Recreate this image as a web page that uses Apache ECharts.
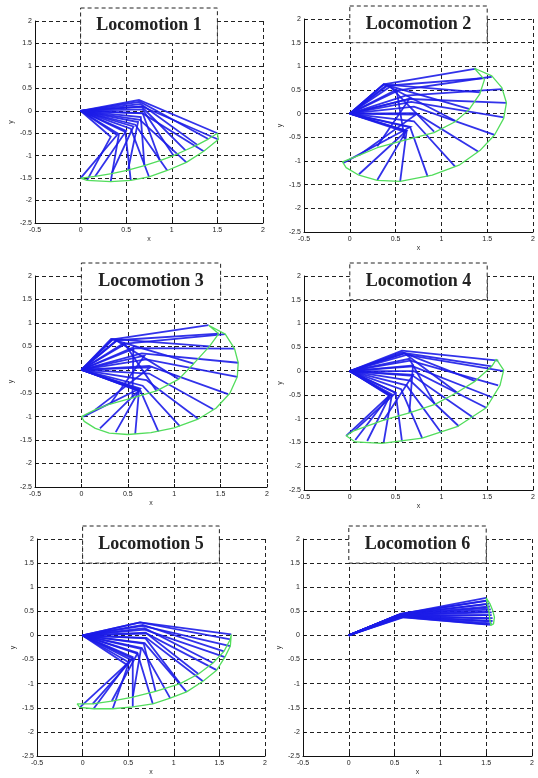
<!DOCTYPE html>
<html>
<head>
<meta charset="utf-8">
<script src="https://cdn.jsdelivr.net/npm/echarts@6/dist/echarts.min.js"></script>
<style>
html, body { margin: 0; padding: 0; background: #fff; }
#container { width: 538px; height: 778px; }
</style>
</head>
<body>
<div id="container"></div>
<script>
var titles = ['Locomotion 1', 'Locomotion 2', 'Locomotion 3', 'Locomotion 4', 'Locomotion 5', 'Locomotion 6'];
var hip = [0, 0];

// knee / foot position of each frame (stance then swing), foot path in green
var p1Knee = [[0.64,0.24],[0.65,0.20],[0.66,0.15],[0.67,0.09],[0.68,0.03],[0.68,-0.05],[0.66,-0.14],[0.63,-0.25],[0.58,-0.35],[0.50,-0.45],[0.40,-0.54],
              [0.33,-0.58],[0.42,-0.52],[0.49,-0.47],[0.55,-0.40],[0.60,-0.31],[0.65,-0.20],[0.68,-0.06],[0.67,0.10]];
var p1Foot = [[1.50,-0.50],[1.40,-0.63],[1.28,-0.76],[1.15,-0.88],[1.02,-1.00],[0.87,-1.11],[0.70,-1.22],[0.52,-1.32],[0.34,-1.40],[0.16,-1.46],[0.00,-1.50],
              [0.07,-1.55],[0.33,-1.58],[0.55,-1.55],[0.75,-1.47],[0.95,-1.33],[1.16,-1.15],[1.35,-0.90],[1.51,-0.64]];
var p1Path = [[1.50,-0.50],[1.40,-0.63],[1.28,-0.76],[1.15,-0.88],[1.02,-1.00],[0.87,-1.11],[0.70,-1.22],[0.52,-1.32],[0.34,-1.40],[0.16,-1.46],[0.00,-1.50],
              [0.07,-1.55],[0.33,-1.58],[0.55,-1.55],[0.75,-1.47],[0.95,-1.33],[1.16,-1.15],[1.35,-0.90],[1.51,-0.64],[1.50,-0.50]];

var p2Knee = [[0.37,0.62],[0.53,0.49],[0.61,0.38],[0.65,0.31],[0.67,0.25],[0.70,0.15],[0.72,0.01],[0.70,-0.16],[0.66,-0.29],[0.62,-0.37],[0.61,-0.39],[0.62,-0.36],[0.66,-0.28],
              [0.72,-0.02],[0.65,0.31],[0.51,0.51],[0.44,0.57],[0.40,0.60],[0.37,0.62],[0.37,0.62],[0.41,0.59]];
var p2Foot = [[1.38,0.95],[1.55,0.78],[1.66,0.52],[1.71,0.23],[1.68,-0.08],[1.58,-0.45],[1.40,-0.80],[1.15,-1.12],[0.85,-1.33],[0.55,-1.43],[0.30,-1.40],[0.10,-1.28],[-0.07,-1.04],
              [0.10,-0.88],[0.30,-0.69],[0.60,-0.55],[0.92,-0.38],[1.15,-0.15],[1.30,0.10],[1.42,0.45],[1.46,0.75]];
var p2Path = [[1.36,0.96],[1.55,0.80],[1.66,0.55],[1.71,0.23],[1.68,-0.10],[1.58,-0.45],[1.42,-0.78],[1.20,-1.08],[0.90,-1.30],[0.55,-1.43],[0.30,-1.41],[0.10,-1.30],[-0.04,-1.14],[-0.08,-1.02],
              [0.10,-0.88],[0.30,-0.72],[0.60,-0.56],[0.92,-0.40],[1.15,-0.17],[1.30,0.08],[1.42,0.42],[1.47,0.72],[1.36,0.96]];

var p3Knee = [[0.34,0.65],[0.48,0.56],[0.58,0.46],[0.65,0.35],[0.70,0.22],[0.73,0.08],[0.73,-0.08],[0.70,-0.22],[0.66,-0.34],[0.63,-0.42],[0.62,-0.45],[0.62,-0.45],[0.62,-0.44],[0.63,-0.40],
              [0.74,0.05],[0.68,0.30],[0.56,0.48],[0.46,0.57],[0.38,0.62],[0.33,0.65],[0.32,0.66],[0.38,0.63]];
var p3Foot = [[1.37,0.95],[1.55,0.76],[1.65,0.45],[1.69,0.15],[1.68,-0.15],[1.58,-0.52],[1.42,-0.84],[1.26,-1.05],[1.06,-1.20],[0.83,-1.32],[0.58,-1.37],[0.37,-1.33],[0.20,-1.25],[0.02,-1.00],
              [0.15,-0.85],[0.31,-0.73],[0.55,-0.60],[0.81,-0.45],[1.05,-0.20],[1.21,0.13],[1.38,0.50],[1.48,0.77]];
var p3Path = [[1.37,0.95],[1.55,0.76],[1.65,0.45],[1.69,0.15],[1.68,-0.15],[1.60,-0.50],[1.45,-0.82],[1.25,-1.06],[1.00,-1.24],[0.75,-1.34],[0.50,-1.38],[0.30,-1.35],[0.15,-1.25],[0.03,-1.10],[0.00,-1.00],
              [0.15,-0.85],[0.31,-0.73],[0.55,-0.60],[0.81,-0.45],[1.05,-0.20],[1.21,0.13],[1.38,0.50],[1.48,0.77],[1.37,0.95]];

var p4Knee = [[0.57,0.43],[0.62,0.34],[0.66,0.22],[0.69,0.10],[0.70,0.00],[0.69,-0.10],[0.66,-0.20],[0.62,-0.30],[0.56,-0.38],[0.50,-0.45],[0.46,-0.49],[0.44,-0.51],[0.43,-0.52],[0.44,-0.50],
              [0.50,-0.46],[0.69,-0.08],[0.69,0.12],[0.65,0.26],[0.60,0.37],[0.57,0.40],[0.59,0.38]];
var p4Foot = [[1.62,0.22],[1.68,0.00],[1.62,-0.30],[1.55,-0.55],[1.49,-0.77],[1.35,-0.98],[1.19,-1.16],[1.00,-1.30],[0.79,-1.41],[0.57,-1.48],[0.37,-1.50],[0.19,-1.47],[0.06,-1.45],[-0.04,-1.36],
              [0.05,-1.25],[0.37,-1.03],[0.65,-0.88],[0.93,-0.70],[1.17,-0.45],[1.37,-0.21],[1.55,0.10]];
var p4Path = [[1.60,0.25],[1.68,0.02],[1.64,-0.30],[1.49,-0.77],[1.18,-1.16],[0.79,-1.41],[0.35,-1.52],[0.06,-1.49],[-0.04,-1.36],
              [0.05,-1.25],[0.37,-1.03],[0.65,-0.88],[0.93,-0.70],[1.17,-0.45],[1.37,-0.21],[1.55,0.10],[1.60,0.25]];

var p5Knee = [[0.63,0.27],[0.66,0.20],[0.68,0.12],[0.70,0.04],[0.70,-0.05],[0.68,-0.16],[0.65,-0.26],[0.60,-0.36],[0.55,-0.45],[0.52,-0.50],[0.50,-0.55],[0.48,-0.60],
              [0.55,-0.48],[0.60,-0.38],[0.64,-0.28],[0.67,-0.17],[0.69,-0.06],[0.69,0.06],[0.68,0.15],[0.66,0.22],[0.63,0.27]];
var p5Foot = [[1.63,0.02],[1.62,-0.22],[1.56,-0.45],[1.47,-0.72],[1.32,-0.95],[1.14,-1.17],[0.96,-1.30],[0.77,-1.42],[0.55,-1.48],[0.33,-1.52],[0.12,-1.52],[-0.03,-1.49],
              [0.11,-1.42],[0.32,-1.36],[0.55,-1.28],[0.80,-1.16],[1.07,-1.00],[1.27,-0.80],[1.43,-0.57],[1.55,-0.33],[1.62,-0.08]];
var p5Path = [[1.63,0.02],[1.62,-0.22],[1.56,-0.45],[1.47,-0.72],[1.32,-0.95],[1.14,-1.17],[0.96,-1.30],[0.77,-1.42],[0.55,-1.48],[0.33,-1.52],[0.12,-1.52],[-0.03,-1.49],[-0.06,-1.42],
              [0.11,-1.42],[0.32,-1.36],[0.55,-1.28],[0.80,-1.16],[1.07,-1.00],[1.27,-0.80],[1.43,-0.57],[1.55,-0.33],[1.62,-0.08],[1.63,0.02]];

var p6Knee = [[0.58,0.45],[0.57,0.44],[0.56,0.43],[0.55,0.43],[0.55,0.42],[0.54,0.42],[0.53,0.41],[0.52,0.41],[0.52,0.40],[0.51,0.40],[0.50,0.39],
              [0.60,0.38],[0.60,0.39],[0.59,0.40],[0.59,0.41],[0.58,0.42],[0.58,0.43],[0.57,0.44],[0.57,0.45]];
var p6Foot = [[1.50,0.78],[1.52,0.72],[1.53,0.66],[1.54,0.60],[1.55,0.54],[1.56,0.48],[1.56,0.42],[1.57,0.36],[1.57,0.30],[1.56,0.25],[1.55,0.22],
              [1.52,0.23],[1.53,0.29],[1.53,0.35],[1.52,0.42],[1.52,0.50],[1.52,0.57],[1.51,0.65],[1.50,0.72]];
var p6Path = [[1.50,0.78],[1.54,0.66],[1.57,0.52],[1.59,0.38],[1.58,0.24],[1.55,0.21],[1.54,0.33],[1.53,0.50],[1.51,0.68],[1.50,0.78]];

var kneeList = [p1Knee, p2Knee, p3Knee, p4Knee, p5Knee, p6Knee];
var footList = [p1Foot, p2Foot, p3Foot, p4Foot, p5Foot, p6Foot];
var pathList = [p1Path, p2Path, p3Path, p4Path, p5Path, p6Path];

// left, top, width, height of every plot box
var boxes = [[35, 21, 228, 202], [304, 19, 229, 213], [35, 276, 232, 211], [304, 276, 229, 214], [37, 539, 228, 217], [303, 539, 229, 217]];

var dom = document.getElementById("container");
var myChart = echarts.init(dom);

var grids = [], xAxes = [], yAxes = [], series = [], graphics = [];
for (var i = 0; i < 6; i++) {
    grids.push({ left: boxes[i][0], top: boxes[i][1], width: boxes[i][2], height: boxes[i][3] });
    xAxes.push({
        type: 'value', gridIndex: i, min: -0.5, max: 2, interval: 0.5,
        name: 'x', nameLocation: 'middle', nameGap: 13,
        nameTextStyle: { fontSize: 7, color: '#333', fontFamily: 'Liberation Sans' },
        axisLine: { show: true, onZero: false, lineStyle: { color: '#111', width: 1 } },
        axisTick: { show: true, inside: true, length: 3, lineStyle: { color: '#111' } },
        axisLabel: { fontSize: 7, color: '#222', margin: 4, fontFamily: 'Liberation Sans' },
        splitLine: { show: true, lineStyle: { color: '#222', type: [4, 3], width: 1 } }
    });
    yAxes.push({
        type: 'value', gridIndex: i, min: -2.5, max: 2, interval: 0.5,
        name: 'y', nameLocation: 'middle', nameGap: 20, nameRotate: 90,
        nameTextStyle: { fontSize: 7, color: '#333', fontFamily: 'Liberation Sans' },
        axisLine: { show: true, onZero: false, lineStyle: { color: '#111', width: 1 } },
        axisTick: { show: true, inside: true, length: 3, lineStyle: { color: '#111' } },
        axisLabel: { fontSize: 7, color: '#222', margin: 3, fontFamily: 'Liberation Sans' },
        splitLine: { show: true, lineStyle: { color: '#222', type: [4, 3], width: 1 } }
    });

    var frames = [];
    for (var k = 0; k < kneeList[i].length; k++) {
        frames.push({ coords: [hip.slice(), kneeList[i][k].slice(), footList[i][k].slice()] });
    }
    series.push({
        type: 'lines', coordinateSystem: 'cartesian2d', xAxisIndex: i, yAxisIndex: i,
        polyline: true, silent: true, z: 3,
        lineStyle: { color: '#1c1ce8', width: 1.8, opacity: 0.9 },
        data: frames
    });
    series.push({
        type: 'line', xAxisIndex: i, yAxisIndex: i, showSymbol: false, silent: true, z: 4,
        lineStyle: { color: '#52dd5c', width: 1.3 },
        data: pathList[i]
    });

    // dashed title box over the x = 0 .. 1.5 columns, bottom on the y = 1.5 line
    var bx0 = boxes[i][0] + boxes[i][2] * 0.5 / 2.5;
    var bx1 = boxes[i][0] + boxes[i][2] * 2 / 2.5;
    var by1 = boxes[i][1] + boxes[i][3] * 0.5 / 4.5;
    var by0 = boxes[i][1] - 13;
    graphics.push({
        type: 'rect', z: 100,
        shape: { x: bx0, y: by0, width: bx1 - bx0, height: by1 - by0 },
        style: { fill: '#fff', stroke: '#222', lineWidth: 1, lineDash: [4, 3] }
    });
    graphics.push({
        type: 'text', z: 101,
        x: (bx0 + bx1) / 2, y: (by0 + by1) / 2,
        style: {
            text: titles[i], fill: '#222', align: 'center', verticalAlign: 'middle',
            fontSize: 18, fontWeight: 'bold', fontFamily: 'Liberation Serif'
        }
    });
}

var option = {
    animation: false,
    backgroundColor: '#fff',
    grid: grids,
    xAxis: xAxes,
    yAxis: yAxes,
    graphic: graphics,
    series: series
};
myChart.setOption(option, true);
</script>
</body>
</html>
